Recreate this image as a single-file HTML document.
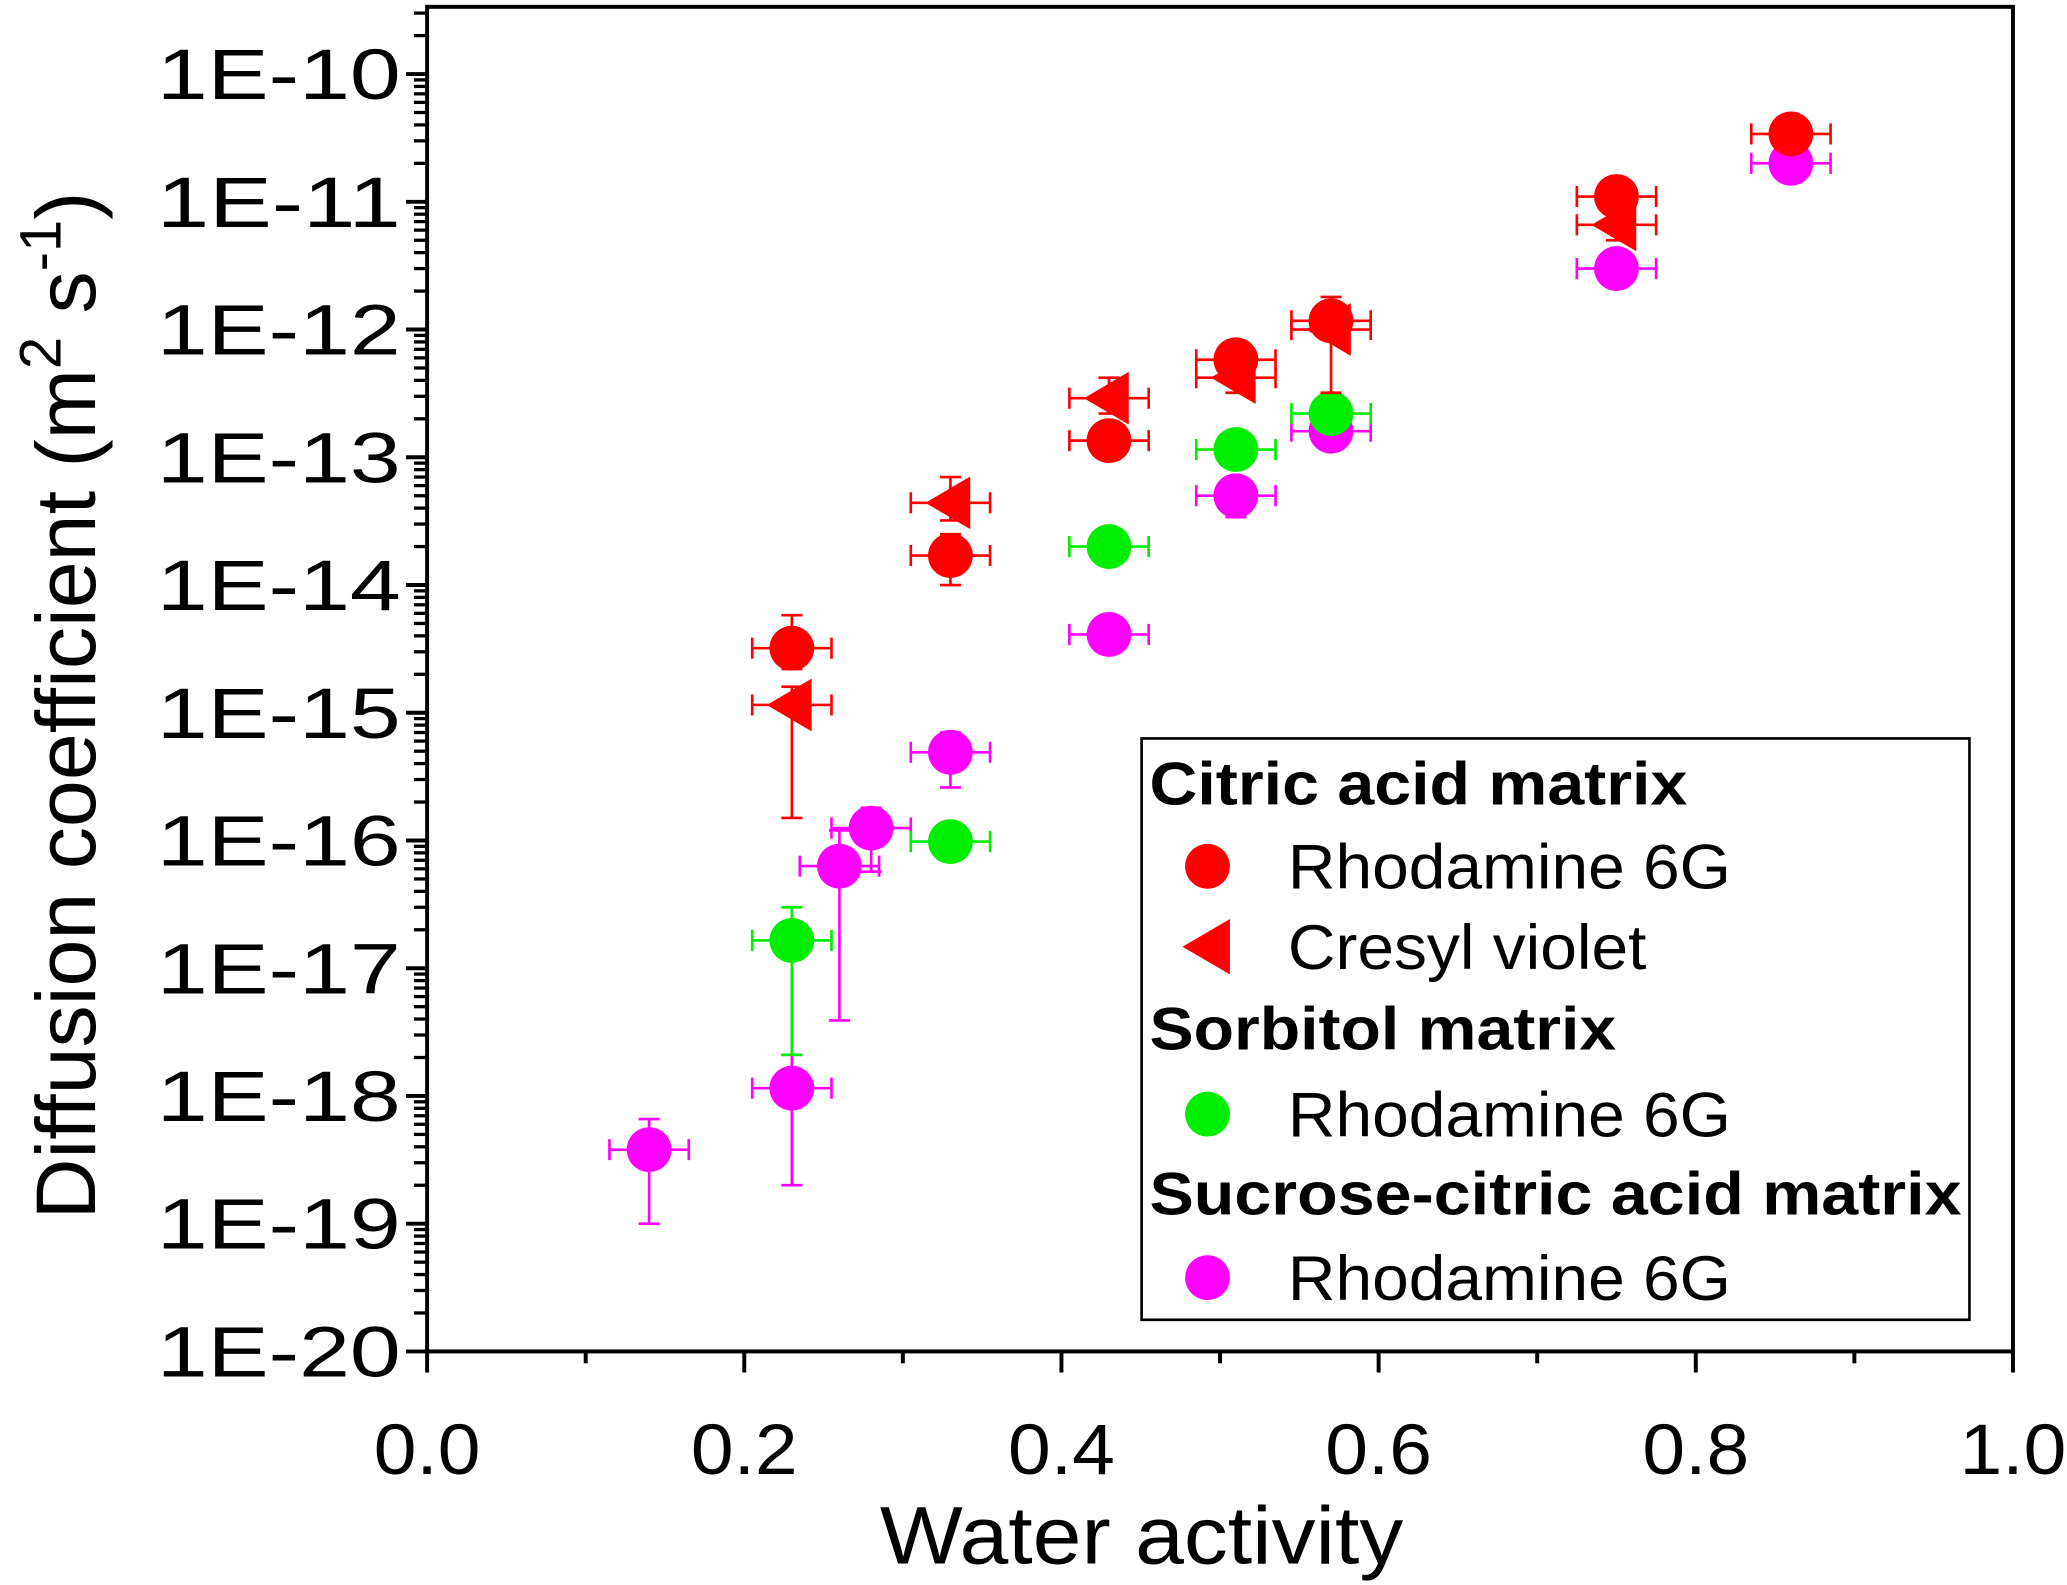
<!DOCTYPE html>
<html><head><meta charset="utf-8"><style>
html,body{margin:0;padding:0;background:#fff;}
svg{display:block;font-family:"Liberation Sans",Arial,sans-serif;}
</style></head><body>
<svg id="chart" width="2067" height="1585" viewBox="0 0 1568 1202" xmlns="http://www.w3.org/2000/svg">
<g id="axes"></g><g id="marks"></g><g id="legend"></g>
</svg>
<script>
const xTicks=[0,0.2,0.4,0.6,0.8,1.0];
const xTickLabels=["0.0","0.2","0.4","0.6","0.8","1.0"];
const yDecades=[-10,-11,-12,-13,-14,-15,-16,-17,-18,-19,-20];
const yTickLabels=["1E-10","1E-11","1E-12","1E-13","1E-14","1E-15","1E-16","1E-17","1E-18","1E-19","1E-20"];
const xErr=0.025;
// Citric acid - Rhodamine 6G
const caR6gX=[0.23,0.33,0.43,0.51,0.57,0.75,0.86];
const caR6gY=[3.2e-15,1.7e-14,1.35e-13,5.8e-13,1.17e-12,1.1e-11,3.4e-11];
const caR6gLo=[2.2e-15,1.0e-14,1.0e-13,4.5e-13,9e-13,9e-12,2.8e-11];
const caR6gHi=[5.8e-15,2.5e-14,1.8e-13,7e-13,1.5e-12,1.35e-11,4e-11];
// Citric acid - Cresyl violet
const caCvX=[0.23,0.33,0.43,0.51,0.57,0.75];
const caCvY=[1.15e-15,4.4e-14,2.9e-13,4.2e-13,1.0e-12,6.6e-12];
const caCvLo=[1.5e-16,3.2e-14,2.2e-13,3.2e-13,3.2e-13,5e-12];
const caCvHi=[1.6e-15,7e-14,4.2e-13,5.5e-13,1.8e-12,8.5e-12];
// Sorbitol - Rhodamine 6G
const soX=[0.23,0.33,0.43,0.51,0.57];
const soY=[1.65e-17,9.8e-17,2.0e-14,1.15e-13,2.2e-13];
const soLo=[2.1e-18,8.5e-17,1.7e-14,9e-14,1.8e-13];
const soHi=[3.0e-17,1.15e-16,2.4e-14,1.4e-13,2.7e-13];
// Sucrose-citric acid - Rhodamine 6G
const scX=[0.14,0.23,0.26,0.28,0.33,0.43,0.51,0.57,0.75,0.86];
const scY=[3.8e-19,1.15e-18,6.3e-17,1.25e-16,4.9e-16,4.1e-15,5e-14,1.6e-13,3e-12,2e-11];
const scLo=[1e-19,2e-19,3.9e-18,5.7e-17,2.6e-16,3.5e-15,3.4e-14,1.35e-13,2.6e-12,1.7e-11];
const scHi=[6.6e-19,2.1e-18,1.2e-16,1.8e-16,7e-16,4.8e-15,6.5e-14,1.9e-13,3.5e-12,2.4e-11];

const NS="http://www.w3.org/2000/svg";
const L=324,R=1527,T=5,B=1025;
function xs(v){return L+(R-L)*v;}
function ys(v){return 56+(-10-Math.log10(v))*96.9;}
function mk(tag,attrs,parent){const e=document.createElementNS(NS,tag);for(const k in attrs)e.setAttribute(k,attrs[k]);parent.appendChild(e);return e;}
const axes=document.getElementById('axes'),marks=document.getElementById('marks'),leg=document.getElementById('legend');

const frame=mk('rect',{x:L,y:T,width:R-L,height:B-T,fill:'none',stroke:'#000','stroke-width':3},axes);


for(let i=0;i<xTicks.length;i++){
  const x=xs(xTicks[i]);
  const t=mk('line',{x1:x,y1:B,x2:x,y2:B+16,stroke:'#000','stroke-width':3},axes);
  
  
  const tx=mk('text',{x:x,y:1118,'font-size':54,'text-anchor':'middle',textLength:81,lengthAdjust:'spacingAndGlyphs'},axes);tx.textContent=xTickLabels[i];
  
  
  if(i<xTicks.length-1){const xm=xs(xTicks[i]+0.1);
    const m=mk('line',{x1:xm,y1:B,x2:xm,y2:B+9,stroke:'#000','stroke-width':3},axes);
    
    }
}
for(let i=0;i<yDecades.length;i++){
  const d=yDecades[i],y=ys(Math.pow(10,d));
  const t=mk('line',{x1:L-16,y1:y,x2:L,y2:y,stroke:'#000','stroke-width':3},axes);
  
  
  const tx=mk('text',{x:304,y:y+19,'font-size':54,'text-anchor':'end',textLength:185,lengthAdjust:'spacingAndGlyphs'},axes);tx.textContent=yTickLabels[i];
  
  
}
for(let d=-21;d<=-10;d++){for(let k=2;k<=9;k++){const v=k*Math.pow(10,d);const y=ys(v);if(y<T||y>B)continue;
  const m=mk('line',{x1:L-10,y1:y,x2:L,y2:y,stroke:'#000','stroke-width':2.5},axes);
  
  }}
const xt=mk('text',{x:866,y:1186,'font-size':62,'text-anchor':'middle',textLength:397,lengthAdjust:'spacingAndGlyphs'},axes);xt.textContent='Water activity';


const yt=mk('text',{transform:'translate(72,535) rotate(-90)','font-size':64,'text-anchor':'middle'},axes);
yt.innerHTML='Diffusion coefficient (m<tspan dy="-26" font-size="44">2</tspan><tspan dy="26"> s</tspan><tspan dy="-26" font-size="44">-1</tspan><tspan dy="26">)</tspan>';



function series(X,Y,Lo,Hi,color,shape,name){
  const g=mk('g',{},marks);
  
  
  for(let i=0;i<X.length;i++){
    const x=xs(X[i]),y=ys(Y[i]),x1=xs(X[i]-xErr),x2=xs(X[i]+xErr),ylo=ys(Lo[i]),yhi=ys(Hi[i]);
    const p=`M${x1},${y}H${x2}M${x1},${y-8}V${y+8}M${x2},${y-8}V${y+8}M${x},${ylo}V${yhi}M${x-8},${ylo}H${x+8}M${x-8},${yhi}H${x+8}`;
    const e=mk('path',{d:p,stroke:color,'stroke-width':2,fill:'none'},g);
    
    
    let m;
    if(shape==='c')m=mk('circle',{cx:x,cy:y,r:17,fill:color},g);
    else m=mk('polygon',{points:`${x-19},${y} ${x+15},${y-20} ${x+15},${y+20}`,fill:color},g);
    
    
  }
}
series(scX,scY,scLo,scHi,'#ff00ff','c','sucrose-citric-r6g-series');
series(soX,soY,soLo,soHi,'#00ee00','c','sorbitol-r6g-series');
series(caCvX,caCvY,caCvLo,caCvHi,'#ff0000','t','citric-cresyl-series');
series(caR6gX,caR6gY,caR6gLo,caR6gHi,'#ff0000','c','citric-r6g-series');

const lb=mk('rect',{x:866,y:560,width:628,height:441,fill:'#fff',stroke:'#000','stroke-width':2},leg);


const rows=[['h','Citric acid matrix',610,408],['c','Rhodamine 6G',657,336,'#ff0000'],['t','Cresyl violet',718,272,'#ff0000'],['h','Sorbitol matrix',796,354],['c','Rhodamine 6G',845,336,'#00ee00'],['h','Sucrose-citric acid matrix',921,616],['c','Rhodamine 6G',969,336,'#ff00ff']];
for(const r of rows){
  if(r[0]==='h'){const t=mk('text',{x:872,y:r[2],'font-size':46,'font-weight':'bold',textLength:r[3],lengthAdjust:'spacingAndGlyphs'},leg);t.textContent=r[1];
    
    }
  else{const y=r[2];let m;
    if(r[0]==='c')m=mk('circle',{cx:916,cy:y,r:17,fill:r[4]},leg);
    else m=mk('polygon',{points:`${897},${y} ${933},${y-21} ${933},${y+21}`,fill:r[4]},leg);
    
    
    const t=mk('text',{x:977,y:y+17,'font-size':48,textLength:r[3],lengthAdjust:'spacingAndGlyphs'},leg);t.textContent=r[1];
    
    }
}
</script>
</body></html>
